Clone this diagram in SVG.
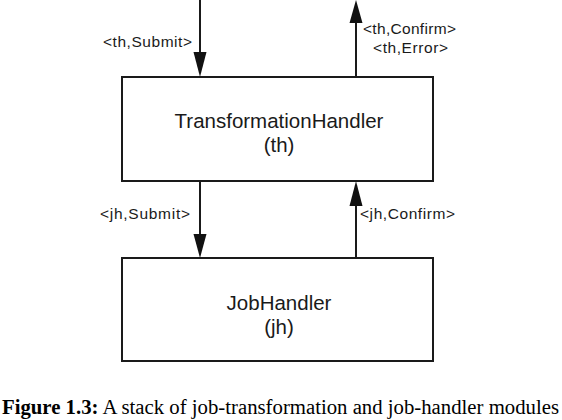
<svg xmlns="http://www.w3.org/2000/svg" width="562" height="420" viewBox="0 0 562 420">
<style>
.box{fill:#fff;stroke:#1a1a1a;stroke-width:2}
.ln{stroke:#1a1a1a;stroke-width:2;fill:none}
.ah{fill:#111}
.main{font-family:"Liberation Sans",Arial,sans-serif;font-size:20.5px;fill:#1a1a1a;text-anchor:middle}
.lbl{font-family:"Liberation Sans",Arial,sans-serif;font-size:15.5px;fill:#1a1a1a}
.cap{font-family:"Liberation Serif","Times New Roman",serif;font-size:20.5px;fill:#000}
</style>
<g id="th">
<rect class="box" x="122" y="77" width="311" height="104"/>
<text class="main" x="279" y="128">TransformationHandler</text>
<text class="main" x="279" y="152">(th)</text>
</g>
<g id="jh">
<rect class="box" x="122" y="258" width="311" height="103"/>
<text class="main" x="279" y="310">JobHandler</text>
<text class="main" x="279" y="334">(jh)</text>
</g>
<g id="connectors">
<line class="ln" x1="200" y1="0" x2="200" y2="54"/>
<polygon class="ah" points="193.5,52 206.5,52 200,77"/>
<line class="ln" x1="356" y1="77" x2="356" y2="20"/>
<polygon class="ah" points="349.5,23 362.5,23 356,0"/>
<line class="ln" x1="200" y1="181" x2="200" y2="236"/>
<polygon class="ah" points="193.5,234 206.5,234 200,258"/>
<line class="ln" x1="356" y1="258" x2="356" y2="204"/>
<polygon class="ah" points="349.5,206 362.5,206 356,181"/>
<text class="lbl" x="103" y="47" textLength="89" lengthAdjust="spacing">&lt;th,Submit&gt;</text>
<text class="lbl" x="363" y="34" textLength="93" lengthAdjust="spacing">&lt;th,Confirm&gt;</text>
<text class="lbl" x="373" y="53" textLength="75" lengthAdjust="spacing">&lt;th,Error&gt;</text>
<text class="lbl" x="100" y="219" textLength="90" lengthAdjust="spacing">&lt;jh,Submit&gt;</text>
<text class="lbl" x="360" y="219" textLength="95" lengthAdjust="spacing">&lt;jh,Confirm&gt;</text>
</g>
<text class="cap" x="2" y="414" textLength="557" lengthAdjust="spacingAndGlyphs"><tspan font-weight="bold">Figure 1.3:</tspan> A stack of job-transformation and job-handler modules</text>
</svg>
